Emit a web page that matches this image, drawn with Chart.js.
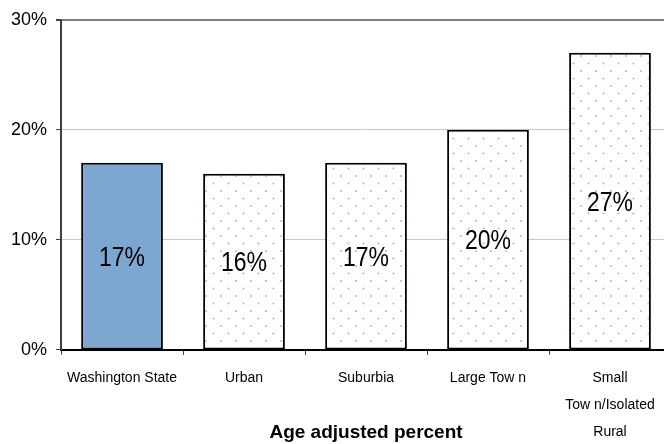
<!DOCTYPE html>
<html lang="en">
<head>
    <meta charset="UTF-8">
    <title>Age adjusted percent</title>
    <script src="https://cdn.jsdelivr.net/npm/chart.js"></script>
    <style>
        html, body { margin: 0; padding: 0; background: #fff; overflow: hidden; }
        #wrap { width: 664px; height: 444px; overflow: hidden; }
        #box { width: 671px; height: 456px; }
    </style>
</head>
<body>
    <div id="wrap"><div id="box"><canvas id="chart"></canvas></div></div>

    <script>
        // Data
        const categories = ['Washington State', 'Urban', 'Suburbia', 'Large Tow n', ['Small', 'Tow n/Isolated', 'Rural']];
        const percents = [17, 16, 17, 20, 27];
        const yTicks = [0, 10, 20, 30];
        const axisTitle = 'Age adjusted percent';

        const sans = '"Liberation Sans", Arial, sans-serif';

        // light blue dotted fill for the region bars
        function dotPattern() {
            const t = document.createElement('canvas');
            t.width = 15; t.height = 15;
            const c = t.getContext('2d');
            c.fillStyle = '#ffffff';
            c.fillRect(0, 0, 15, 15);
            c.fillStyle = '#94c6f3';
            c.beginPath(); c.arc(3.5, 3.5, 1.1, 0, Math.PI * 2); c.fill();
            c.beginPath(); c.arc(11, 11, 1.1, 0, Math.PI * 2); c.fill();
            return document.getElementById('chart').getContext('2d').createPattern(t, 'repeat');
        }
        const dots = dotPattern();
        const fills = percents.map((v, i) => i === 0 ? '#7ba7d0' : dots);

        // value labels in the middle of each bar (narrowed like the original), plus the x axis title
        const barText = {
            id: 'barText',
            afterDatasetsDraw(chart) {
                const ctx = chart.ctx;
                ctx.save();
                ctx.fillStyle = '#000';
                ctx.textAlign = 'center';
                ctx.textBaseline = 'middle';
                ctx.font = '28px ' + sans;
                chart.getDatasetMeta(0).data.forEach((bar, i) => {
                    ctx.save();
                    ctx.translate(bar.x, (bar.y + bar.base) / 2 + 2);
                    ctx.scale(0.82, 1);
                    ctx.fillText(percents[i] + '%', 0, 0);
                    ctx.restore();
                });
                const xs = chart.scales.x;
                ctx.font = 'bold 19px ' + sans;
                ctx.fillText(axisTitle, (xs.left + xs.right) / 2, 433);
                ctx.restore();
            }
        };

        new Chart(document.getElementById('chart'), {
            type: 'bar',
            data: {
                labels: categories,
                datasets: [{
                    data: percents,
                    backgroundColor: fills,
                    borderColor: '#000',
                    borderWidth: 2,
                    borderSkipped: false,
                    barPercentage: 0.67,
                    categoryPercentage: 1
                }]
            },
            plugins: [barText],
            options: {
                responsive: true,
                maintainAspectRatio: false,
                animation: false,
                layout: { padding: { left: 2, top: 8, right: 0, bottom: 0 } },
                plugins: { legend: { display: false }, tooltip: { enabled: false } },
                scales: {
                    x: {
                        grid: {
                            offset: true,
                            drawOnChartArea: false,
                            tickLength: 5,
                            color: '#404040',
                            lineWidth: 1
                        },
                        border: { color: '#000', width: 2 },
                        ticks: {
                            color: '#000',
                            padding: 10,
                            maxRotation: 0,
                            autoSkip: false,
                            font: { family: sans, size: 14, lineHeight: 1.93 }
                        }
                    },
                    y: {
                        min: 0,
                        max: 30,
                        afterBuildTicks: axis => { axis.ticks = yTicks.map(v => ({ value: v })); },
                        grid: {
                            tickLength: 5,
                            color: ctx => ctx.tick && ctx.tick.value === 30 ? '#7f7f7f' : '#c8c8c8',
                            tickColor: '#404040',
                            lineWidth: ctx => ctx.tick && ctx.tick.value === 30 ? 2 : 1
                        },
                        border: { color: '#404040', width: 2 },
                        ticks: {
                            color: '#000',
                            padding: 9,
                            font: { family: sans, size: 18 },
                            callback: v => v + '%'
                        }
                    }
                }
            }
        });
    </script>
</body>
</html>
